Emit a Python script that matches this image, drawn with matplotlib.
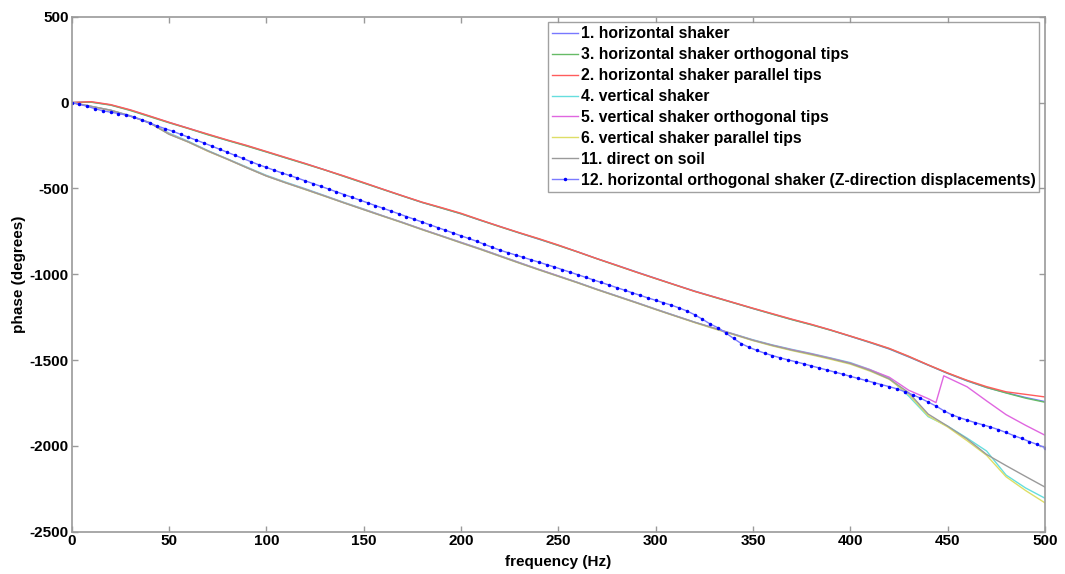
#!/usr/bin/env python3

import numpy as np
import matplotlib
matplotlib.use("Agg")
import matplotlib.pyplot as plt

# ------------------------------------------------------------
# Data (phase in degrees)
# ------------------------------------------------------------

freq = list(range(0, 501, 10))

phase_1 = [0, 3, -14, -44, -80, -116, -150, -186, -220, -252, -287, -322, -356, -392, -430,
           -468, -506, -544, -582, -614, -648, -686, -722, -760, -796, -832, -870, -910, -948,
           -986, -1024, -1062, -1098, -1132, -1166, -1200, -1232, -1264, -1294, -1326, -1362,
           -1398, -1436, -1482, -1530, -1578, -1622, -1660, -1690, -1718, -1742]

phase_3 = [0, 2, -15, -46, -82, -118, -152, -188, -221, -254, -288, -323, -358, -393, -431,
           -469, -507, -545, -582, -615, -648, -686, -724, -760, -795, -833, -871, -911, -950,
           -988, -1026, -1063, -1100, -1134, -1167, -1200, -1233, -1265, -1295, -1327, -1361,
           -1397, -1434, -1480, -1529, -1577, -1620, -1660, -1692, -1722, -1746]

phase_2 = [0, 5, -12, -42, -78, -115, -150, -184, -218, -250, -285, -320, -355, -392, -428,
           -466, -505, -543, -580, -612, -645, -684, -722, -758, -793, -830, -870, -910, -948,
           -988, -1025, -1062, -1100, -1132, -1165, -1198, -1230, -1262, -1292, -1325, -1360,
           -1395, -1432, -1478, -1528, -1575, -1618, -1655, -1685, -1700, -1715]

phase_4 = [0, -22, -44, -76, -116, -178, -226, -280, -328, -376, -424, -464, -502, -542, -582,
           -620, -660, -698, -738, -776, -814, -852, -892, -932, -972, -1010, -1048, -1088,
           -1126, -1164, -1203, -1241, -1279, -1314, -1348, -1382, -1412, -1438, -1462, -1488,
           -1515, -1555, -1605, -1710, -1830, -1885, -1955, -2030, -2170, -2245, -2305]

freq_5 = list(range(0, 441, 10)) + [444, 448, 460, 470, 480, 490, 500]
phase_5 = [0, -23, -45, -78, -117, -182, -230, -283, -330, -379, -427, -467, -505, -544, -584,
           -622, -661, -699, -738, -777, -815, -853, -893, -933, -972, -1010, -1049, -1089,
           -1127, -1165, -1204, -1242, -1280, -1314, -1349, -1384, -1414, -1440, -1464, -1490,
           -1518, -1556, -1600, -1676, -1725, -1748, -1592, -1656, -1738, -1818, -1880, -1938]

phase_6 = [0, -23, -46, -79, -119, -184, -231, -284, -331, -380, -428, -468, -507, -546, -585,
           -624, -663, -701, -741, -779, -818, -856, -896, -936, -975, -1013, -1051, -1091,
           -1129, -1167, -1206, -1244, -1282, -1318, -1352, -1387, -1418, -1445, -1470, -1496,
           -1524, -1564, -1612, -1700, -1825, -1890, -1970, -2055, -2180, -2260, -2332]

phase_11 = [0, -22, -45, -78, -118, -185, -230, -282, -330, -380, -428, -468, -506, -545,
            -585, -624, -662, -700, -740, -778, -817, -855, -895, -935, -974, -1012, -1050,
            -1090, -1128, -1166, -1205, -1243, -1280, -1315, -1350, -1385, -1415, -1442, -1466,
            -1492, -1520, -1560, -1610, -1690, -1815, -1885, -1960, -2050, -2115, -2178, -2240]

# shaker 12 was sampled every 4 Hz (one marker per sample)
freq_12 = list(range(0, 501, 4))
phase_12 = [0, -10, -22, -36, -48, -56, -64, -73, -86, -102, -120, -137, -152, -168, -185,
            -202, -219, -236, -254, -272, -290, -308, -326, -344, -362, -378, -394, -410, -425,
            -440, -456, -472, -488, -504, -520, -536, -552, -568, -584, -600, -616, -632, -648,
            -664, -680, -696, -712, -728, -744, -760, -776, -792, -808, -826, -843, -860, -874,
            -888, -902, -916, -930, -944, -958, -973, -988, -1003, -1018, -1033, -1048, -1063,
            -1078, -1093, -1108, -1123, -1138, -1152, -1166, -1180, -1196, -1214, -1236, -1262,
            -1290, -1312, -1342, -1374, -1404, -1426, -1444, -1460, -1474, -1487, -1499, -1510,
            -1522, -1534, -1546, -1558, -1570, -1582, -1595, -1607, -1619, -1631, -1643, -1655,
            -1668, -1684, -1702, -1722, -1745, -1768, -1795, -1818, -1835, -1850, -1864, -1877,
            -1890, -1905, -1922, -1940, -1957, -1975, -1992, -2010]

labels = [
    "1. horizontal shaker",
    "3. horizontal shaker orthogonal tips",
    "2. horizontal shaker parallel tips",
    "4. vertical shaker",
    "5. vertical shaker orthogonal tips",
    "6. vertical shaker parallel tips",
    "11. direct on soil",
    "12. horizontal orthogonal shaker (Z-direction displacements)",
]

colors = ["#7878ff", "#66bb66", "#ff5c5c", "#66dede", "#e066e0", "#dede66", "#9a9a9a", "#7a7aff"]

# ------------------------------------------------------------
# Plot
# ------------------------------------------------------------

plt.rcParams['font.family'] = ['Liberation Sans', 'DejaVu Sans']
plt.rcParams['font.weight'] = 'bold'
plt.rcParams['axes.unicode_minus'] = False

fig = plt.figure(figsize=(10.65, 5.74), dpi=100)
ax = fig.add_axes([0.0673, 0.0737, 0.9139, 0.8972])

series = [
    (freq, phase_1), (freq, phase_3), (freq, phase_2), (freq, phase_4),
    (freq_5, phase_5), (freq, phase_6), (freq, phase_11),
]
for (x, y), lab, c in zip(series, labels[:7], colors[:7]):
    ax.plot(x, y, color=c, lw=1.0, label=lab)

ax.plot(freq_12, phase_12, color=colors[7], lw=1.0, marker='.', ms=3,
        mfc='#0000ff', mec='#0000ff', label=labels[7])

ax.set_xlim(0, 500)
ax.set_ylim(-2500, 500)
ax.set_xticks(np.arange(0, 501, 50))
ax.set_yticks(np.arange(-2500, 501, 500))

ax.set_xlabel("frequency (Hz)", fontsize=11, fontweight='bold', labelpad=5)
ax.set_ylabel("phase (degrees)", fontsize=11, fontweight='bold', labelpad=3)

for s in ax.spines.values():
    s.set_color('#9a9a9a')
    s.set_linewidth(1.2)
ax.tick_params(direction='in', length=4, width=1, color='#9a9a9a',
               top=True, right=True, labelsize=11, pad=2)

leg = ax.legend(loc='upper right', fontsize=11.3, frameon=True, fancybox=False,
                edgecolor='#8a8a8a', handlelength=1.7, handletextpad=0.15,
                labelspacing=0.38, borderpad=0.25, borderaxespad=0.35)
leg.get_frame().set_linewidth(1.0)

fig.savefig("out.png", dpi=100)
